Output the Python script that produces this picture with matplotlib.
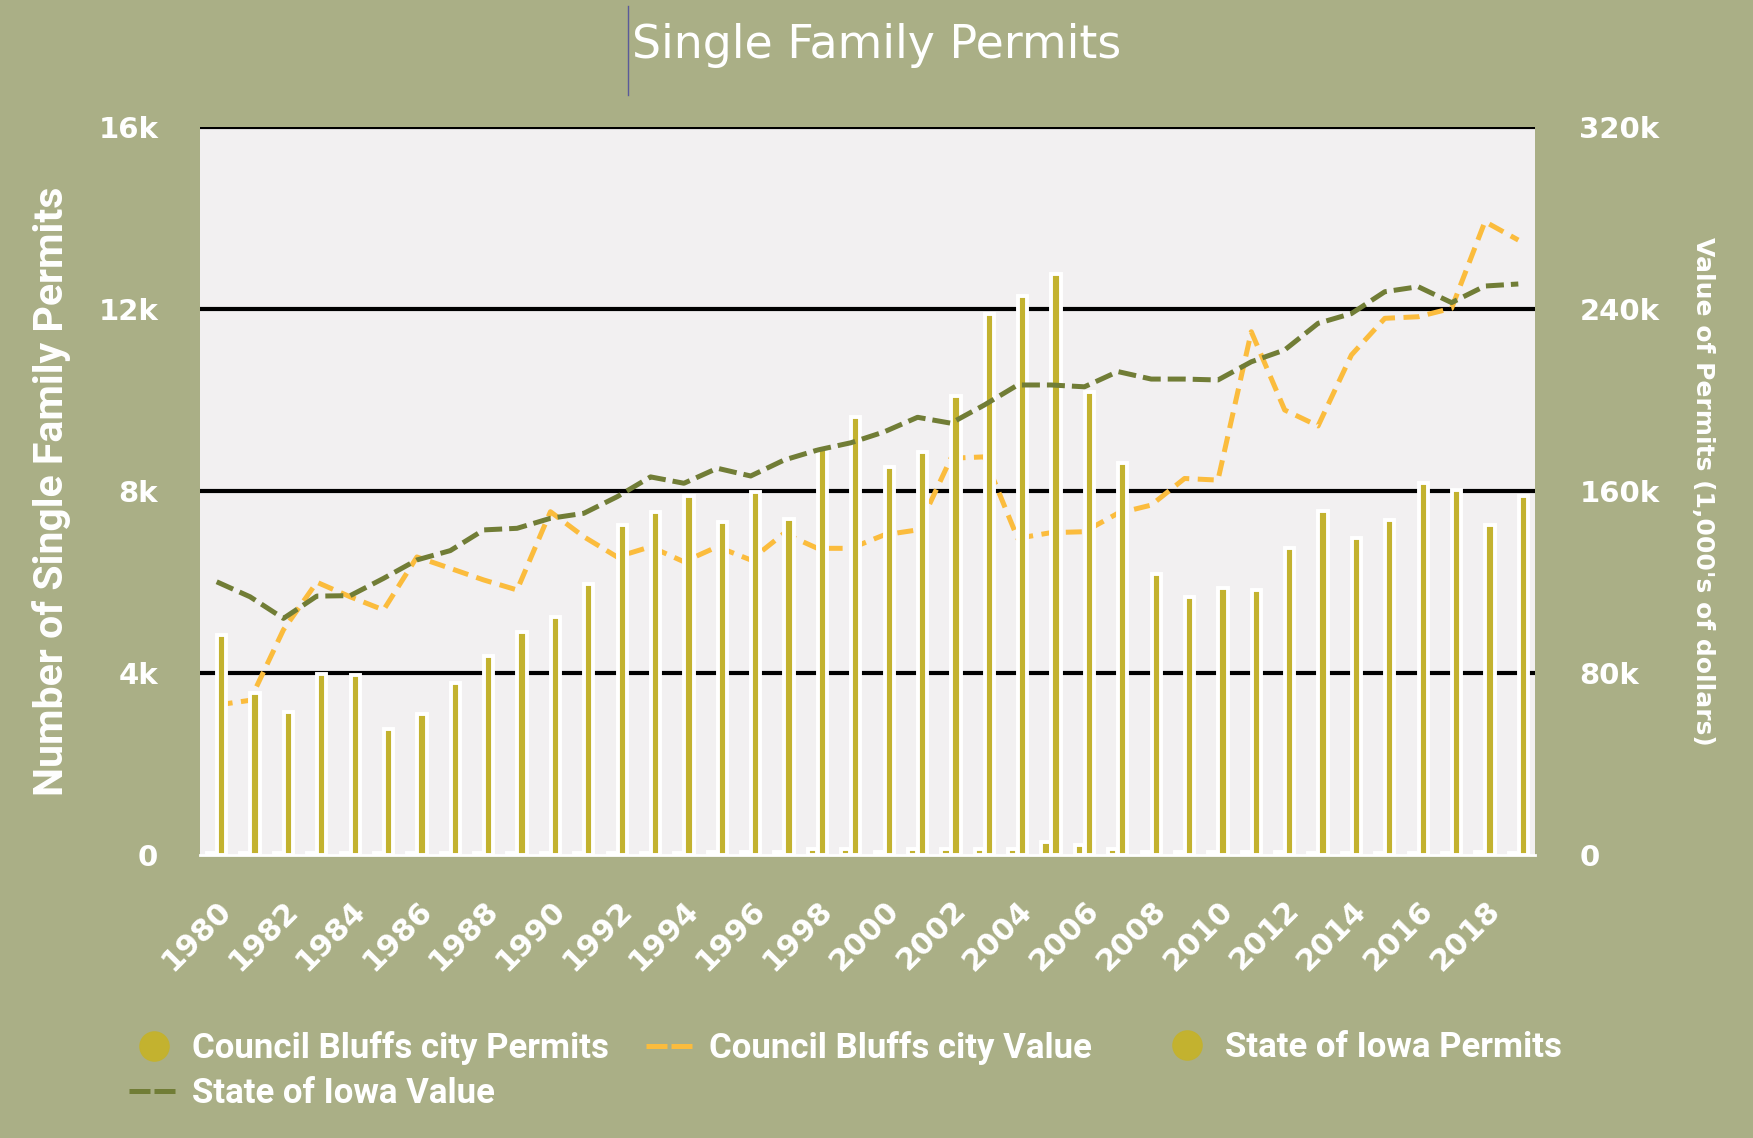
import numpy as np
import matplotlib
matplotlib.use("Agg")
import matplotlib.pyplot as plt
from matplotlib.lines import Line2D

# data
years = list(range(1980, 2020))
cb_permits = [40, 40, 40, 40, 40, 40, 40, 40, 40, 40,
              40, 40, 40, 40, 40, 70, 70, 70, 140, 140,
              70, 140, 140, 140, 140, 285, 225, 140, 70, 70,
              70, 70, 70, 40, 40, 40, 40, 40, 70, 40]
ia_permits = [4830, 3560, 3140, 3980, 3950, 2770, 3090, 3780, 4370, 4910,
              5230, 5960, 7260, 7530, 7880, 7310, 7980, 7390, 8930, 9620,
              8520, 8860, 10090, 11900, 12290, 12760, 10180, 8610, 6180, 5670,
              5870, 5820, 6750, 7560, 6970, 7360, 8170, 8020, 7260, 7880]
cb_value = [65.9, 68, 99, 119.9, 113.5, 107.7, 131, 126, 120.9, 116.5,
            150.9, 139.9, 131, 135.5, 128.9, 135.5, 129.7, 141.4, 134.8, 134.8,
            140.7, 142.9, 174.4, 175, 139.2, 141.7, 142.1, 150.2, 153.8, 165.5,
            164.8, 230, 195.6, 188.6, 219.8, 235.9, 236.6, 240.3, 278.4, 270.3]
ia_value = [120.1, 113.5, 104, 113.8, 114, 121.6, 129.7, 133.8, 142.9, 143.6,
            148, 150.2, 157.5, 166.2, 163.4, 170, 166.6, 173.6, 178, 181.2,
            186, 192.4, 189.8, 197.8, 206.6, 206.6, 205.8, 212.5, 209.2, 209.2,
            208.8, 216.8, 222, 233.7, 238, 247.6, 249.8, 242.8, 250.1, 251]
left_ticks = [0, 4000, 8000, 12000, 16000]
left_labels = ["0", "4k", "8k", "12k", "16k"]
right_ticks = [0, 80, 160, 240, 320]
right_labels = ["0", "80k", "160k", "240k", "320k"]

bg = "#aaaf86"
plot_bg = "#f2f0f1"
bar_col = "#c3b22f"
orange = "#fbbc3d"
green = "#717d36"
cond = ["Roboto", "DejaVu Sans"]

fig = plt.figure(figsize=(17.53, 11.38), dpi=100, facecolor=bg)
ax = fig.add_axes([200 / 1753, 1 - 855 / 1138, 1335 / 1753, 728 / 1138])
ax.set_facecolor(plot_bg)
ax2 = ax.twinx()
ax2.set_ylim(0, 320)

x = np.arange(len(years))
w = 0.275

for v in left_ticks[1:]:
    ax.axhline(v, color="black", lw=3, zorder=1)

# draw order like the source: CB columns, CB value, Iowa columns, Iowa value
ax.bar(x - 0.15, cb_permits, width=w, color=bar_col, edgecolor="white",
       linewidth=2.8, zorder=2)
ax.plot(x, cb_value, color=orange, lw=3.6, dashes=(3.2, 1.7), zorder=3,
        transform=ax2.transData)
ax.bar(x + 0.15, ia_permits, width=w, color=bar_col, edgecolor="white",
       linewidth=2.8, zorder=4)
ax.plot(x, ia_value, color=green, lw=3.6, dashes=(3.6, 1.4), zorder=5,
        transform=ax2.transData)

ax.set_xlim(-0.5, len(years) - 0.5)
ax.set_ylim(0, 16000)

ax.set_yticks(left_ticks)
ax.set_yticklabels(left_labels)
ax2.set_yticks(right_ticks)
ax2.set_yticklabels(right_labels)
ax.set_xticks(x[::2])
ax.set_xticklabels([str(y) for y in years[::2]], rotation=45, ha="right",
                   va="top", rotation_mode="anchor")

for a in (ax, ax2):
    for s in a.spines.values():
        s.set_visible(False)
    a.tick_params(length=0, colors="white", labelsize=21)
    for lab in a.get_yticklabels() + a.get_xticklabels():
        lab.set_fontweight("bold")
ax.tick_params(axis="x", labelsize=22, pad=29)
ax.spines["bottom"].set_visible(True)
ax.spines["bottom"].set_color("white")
ax.spines["bottom"].set_linewidth(2)
ax.tick_params(axis="y", pad=30)
ax2.tick_params(axis="y", pad=32)

ax.set_ylabel("Number of Single Family Permits", color="white", fontsize=29.5,
              family=cond, fontweight="bold", labelpad=20)
ax2.set_ylabel("Value of Permits (1,000's of dollars)", color="white",
               fontsize=18, fontweight="bold", rotation=270, labelpad=40)

fig.text(0.5, 1 - 45 / 1138, "Single Family Permits", color="white",
         fontsize=33, ha="center", va="center")
fig.add_artist(Line2D([628 / 1753, 628 / 1753], [1 - 6 / 1138, 1 - 95 / 1138],
                      color="#5a5a9a", lw=1))

# legend, one block per column so the columns sit where they do in the source
dot = dict(ls="none", marker="o", markersize=21, color=bar_col)
leg_kw = dict(loc="upper left", frameon=False, labelcolor="white",
              prop={"family": cond, "weight": "bold", "size": 25},
              handlelength=1.45, handletextpad=0.37, labelspacing=0.35,
              borderpad=0, borderaxespad=0)
top = 1 - 1031 / 1138
fig.legend([Line2D([], [], **dot),
            Line2D([], [], color=green, lw=3.6, dashes=(4.2, 0.8))],
           ["Council Bluffs city Permits", "State of Iowa Value"],
           bbox_to_anchor=(129 / 1753, top), **leg_kw)
fig.legend([Line2D([], [], color=orange, lw=3.6, dashes=(4.2, 0.8))],
           ["Council Bluffs city Value"],
           bbox_to_anchor=(646 / 1753, top), **leg_kw)
fig.legend([Line2D([], [], **dot)], ["State of Iowa Permits"],
           bbox_to_anchor=(1162 / 1753, top), **leg_kw)

fig.savefig("out.png", dpi=100, facecolor=bg)
